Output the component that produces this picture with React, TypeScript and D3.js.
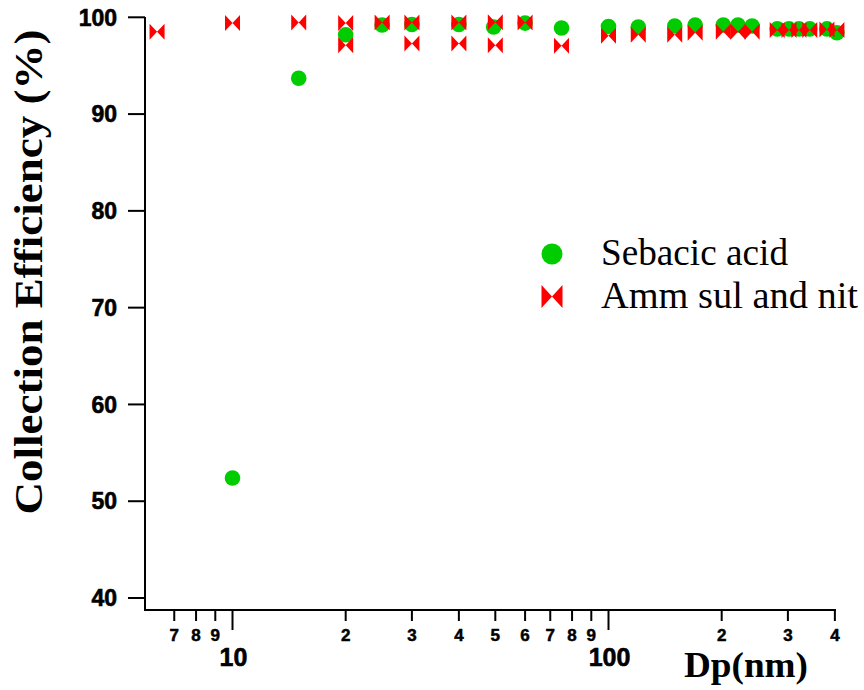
import React from "react";
import * as d3 from "d3";

const sebX = [10, 15, 20, 25, 30, 40, 49.5, 60, 75, 100, 120, 150, 170, 202, 221, 241, 281, 302, 321, 343, 381, 405];
const sebY = [52.4, 93.7, 98.2, 99.2, 99.25, 99.25, 99.0, 99.4, 98.9, 99.05, 99.0, 99.1, 99.2, 99.2, 99.2, 99.1, 98.8, 98.8, 98.8, 98.8, 98.8, 98.4];

const ammX = [6.3, 10, 15, 20, 20, 25, 30, 30, 40, 40, 50, 50, 60, 75, 100, 120, 150, 170, 202, 221, 241, 281, 302, 321, 343, 381, 405];
const ammY = [98.5, 99.4, 99.45, 99.4, 97.1, 99.45, 99.45, 97.3, 99.45, 97.3, 99.5, 97.1, 99.45, 97.05, 98.1, 98.2, 98.2, 98.4, 98.5, 98.5, 98.5, 98.7, 98.7, 98.7, 98.7, 98.75, 98.7];

const yTicks = [40, 50, 60, 70, 80, 90, 100];
const xMinorTicks = [7, 8, 9, 20, 30, 40, 50, 60, 70, 80, 90, 200, 300, 400];
const xMinorLabels = ["7", "8", "9", "2", "3", "4", "5", "6", "7", "8", "9", "2", "3", "4"];
const xMajorTicks = [10, 100];
const xMajorLabels = ["10", "100"];

const seriesNames = ["Sebacic acid", "Amm sul and nit"];
const GREEN = "#00CC00";
const RED = "#FF0000";

function bowtie(w: number, h: number) {
  const a = w / 2, b = h / 2;
  return `M${-a},${-b}L${a},${b}L${a},${-b}L${-a},${b}Z`;
}

export default function App() {
  const W = 864, H = 690;
  const axisX = 145, axisY = 610, axisTop = 17, axisRight = 836;
  const x = d3.scaleLog().domain([10, 100]).range([232.5, 608.5]);
  const y = d3.scaleLinear().domain([40, 100]).range([598, 17.3]);
  const tickFont = "'Liberation Sans', Arial, sans-serif";
  const serif = "'Liberation Serif', 'Times New Roman', serif";

  return (
    <svg width={W} height={H} style={{ position: "absolute", left: 0, top: 0, background: "#fff" }}>
      <rect width={W} height={H} fill="#fff" />
      <line x1={axisX} y1={axisTop} x2={axisX} y2={axisY + 1} stroke="#000" strokeWidth={2} />
      <line x1={axisX - 1} y1={axisY} x2={axisRight} y2={axisY} stroke="#000" strokeWidth={2} />
      {yTicks.map((t) => (
        <g key={"yt" + t}>
          <line x1={axisX - 17} x2={axisX} y1={y(t)} y2={y(t)} stroke="#000" strokeWidth={2} />
          <text x={117} y={y(t)} dy="0.36em" textAnchor="end" fontFamily={tickFont} fontWeight="bold" fontSize={23} stroke="#000" strokeWidth={0.6}>
            {t}
          </text>
        </g>
      ))}
      {xMinorTicks.map((t, i) => (
        <g key={"xm" + t}>
          <line x1={x(t)} x2={x(t)} y1={axisY} y2={axisY + 11} stroke="#000" strokeWidth={2} />
          <text x={x(t)} y={635} dy="0.36em" textAnchor="middle" fontFamily={tickFont} fontWeight="bold" fontSize={17} stroke="#000" strokeWidth={0.5}>
            {xMinorLabels[i]}
          </text>
        </g>
      ))}
      {xMajorTicks.map((t, i) => (
        <g key={"xM" + t}>
          <line x1={x(t)} x2={x(t)} y1={axisY} y2={axisY + 20} stroke="#000" strokeWidth={2} />
          <text x={x(t) + 1} y={657} dy="0.36em" textAnchor="middle" fontFamily={tickFont} fontWeight="bold" fontSize={25} stroke="#000" strokeWidth={0.6}>
            {xMajorLabels[i]}
          </text>
        </g>
      ))}
      <text
        transform={`translate(42,272) rotate(-90)`}
        textAnchor="middle"
        fontFamily={serif}
        fontWeight="bold"
        fontSize={40}
        textLength={485}
        lengthAdjust="spacingAndGlyphs"
      >
        Collection Efficiency (%)
      </text>
      <text x={684} y={677} fontFamily={serif} fontWeight="bold" fontSize={36} textLength={124} lengthAdjust="spacingAndGlyphs">
        Dp(nm)
      </text>
      {sebX.map((d, i) => (
        <circle key={"s" + i} cx={x(d)} cy={y(sebY[i])} r={7.8} fill={GREEN} />
      ))}
      {ammX.map((d, i) => (
        <path key={"a" + i} d={bowtie(15, 16)} transform={`translate(${x(d)},${y(ammY[i])})`} fill={RED} />
      ))}
      <circle cx={552} cy={254} r={10.5} fill={GREEN} />
      <path d={bowtie(21, 23)} transform="translate(552,296.5)" fill={RED} />
      <text x={601} y={265} fontFamily={serif} fontSize={37} textLength={187} lengthAdjust="spacingAndGlyphs">
        {seriesNames[0]}
      </text>
      <text x={601} y={308} fontFamily={serif} fontSize={37} textLength={257} lengthAdjust="spacingAndGlyphs">
        {seriesNames[1]}
      </text>
    </svg>
  );
}
